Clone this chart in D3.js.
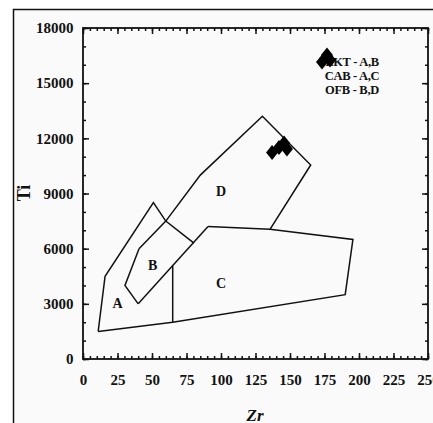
<!DOCTYPE html>
<html>
<head>
<meta charset="utf-8">
<script src="https://cdn.jsdelivr.net/npm/d3@7"></script>
<style>
  html, body { margin: 0; padding: 0; background: #ffffff; }
  svg { display: block; }
  text { font-family: "Liberation Serif", "Times New Roman", serif; font-weight: bold; fill: #111; }
</style>
</head>
<body>
<svg id="chart" width="433" height="423"></svg>
<script>
// Ti–Zr discrimination diagram (Pearce & Cann style fields)

// Tick values
const zrTicks = [0, 25, 50, 75, 100, 125, 150, 175, 200, 225, 250];
const tiTicks = [0, 3000, 6000, 9000, 12000, 15000, 18000];

// Field boundary lines, as [Zr, Ti] vertices
const fieldAOuter = [[11, 1500], [16, 4500], [51, 8500], [60, 7500], [80.4, 6300]];
const divideBC = [[40, 3000], [90.6, 7200]];
const fieldB = [[40, 3000], [30.4, 4000], [40.6, 6000]];
const fieldD = [[40.6, 6000], [60, 7500], [85, 10000], [130, 13200], [165, 10550], [135.5, 7050]];
const fieldC = [[90.6, 7200], [135.5, 7050], [195.6, 6500], [190, 3500], [65, 2000], [11, 1500]];
const divideAC = [[65, 2000], [65, 5080]];

// Field letters
const fieldNames = ["A", "B", "C", "D"];
const fieldZr = [25, 50.5, 100, 100];
const fieldTi = [3050, 5100, 4150, 9150];

// Key to the fields
const keyLines = ["LKT - A,B", "CAB - A,C", "OFB - B,D"];

// Samples
const sampleZr = [137, 142, 145.7, 147.8, 173.2, 176.8, 179];
const sampleTi = [11230, 11500, 11750, 11420, 16150, 16530, 16260];

const svg = d3.select("#chart");
const plotLeft = 83, plotRight = 428, plotTop = 28, plotBottom = 359;

const x = d3.scaleLinear().domain([0, 250]).range([plotLeft, plotRight]);
const y = d3.scaleLinear().domain([0, 18000]).range([plotBottom, plotTop]);

// outer figure frame
svg.append("rect")
  .attr("x", 13.5).attr("y", 9.5)
  .attr("width", 440).attr("height", 440)
  .attr("fill", "#fafafa").attr("stroke", "#111").attr("stroke-width", 1.5);

const axisStyle = g => {
  g.select(".domain").remove();
  g.selectAll("line").attr("stroke", "#111").attr("stroke-width", 1.5);
  g.selectAll("text").attr("font-size", 15).attr("fill", "#111")
    .attr("font-family", "'Liberation Serif', 'Times New Roman', serif").attr("font-weight", "bold");
};

const zrMinor = d3.range(0, 251, 5);
const tiMinor = d3.range(0, 18001, 1000);

// bottom axis
svg.append("g").attr("transform", `translate(0,${plotBottom})`)
  .call(d3.axisBottom(x).tickValues(zrMinor).tickSize(-3).tickFormat(""))
  .call(axisStyle);
svg.append("g").attr("transform", `translate(0,${plotBottom})`)
  .call(d3.axisBottom(x).tickValues(zrTicks).tickSizeInner(-6).tickSizeOuter(0).tickPadding(15).tickFormat(d3.format("d")))
  .call(axisStyle);
// top axis
svg.append("g").attr("transform", `translate(0,${plotTop})`)
  .call(d3.axisTop(x).tickValues(zrMinor).tickSize(-3).tickFormat(""))
  .call(axisStyle);
svg.append("g").attr("transform", `translate(0,${plotTop})`)
  .call(d3.axisTop(x).tickValues(zrTicks).tickSize(-6).tickFormat(""))
  .call(axisStyle);
// left axis
svg.append("g").attr("transform", `translate(${plotLeft},0)`)
  .call(d3.axisLeft(y).tickValues(tiMinor).tickSize(-3).tickFormat(""))
  .call(axisStyle);
svg.append("g").attr("transform", `translate(${plotLeft},0)`)
  .call(d3.axisLeft(y).tickValues(tiTicks).tickSizeInner(-6).tickSizeOuter(0).tickPadding(9.5).tickFormat(d3.format("d")))
  .call(axisStyle);
// right axis
svg.append("g").attr("transform", `translate(${plotRight},0)`)
  .call(d3.axisRight(y).tickValues(tiMinor).tickSize(-3).tickFormat(""))
  .call(axisStyle);
svg.append("g").attr("transform", `translate(${plotRight},0)`)
  .call(d3.axisRight(y).tickValues(tiTicks).tickSize(-6).tickFormat(""))
  .call(axisStyle);

// plot border
svg.append("rect")
  .attr("x", plotLeft).attr("y", plotTop)
  .attr("width", plotRight - plotLeft).attr("height", plotBottom - plotTop)
  .attr("fill", "none").attr("stroke", "#111").attr("stroke-width", 1.8);

// field boundaries
const line = d3.line().x(d => x(d[0])).y(d => y(d[1]));
[fieldAOuter, divideBC, fieldB, fieldD, fieldC, divideAC].forEach(pts => {
  svg.append("path").attr("d", line(pts))
    .attr("fill", "none").attr("stroke", "#111").attr("stroke-width", 1.5)
    .attr("stroke-linejoin", "miter");
});

// field letters
svg.append("g").selectAll("text").data(fieldNames).join("text")
  .attr("x", (d, i) => x(fieldZr[i]))
  .attr("y", (d, i) => y(fieldTi[i]))
  .attr("dy", "0.35em")
  .attr("text-anchor", "middle")
  .attr("font-size", 14)
  .text(d => d);

// key
svg.append("g").selectAll("text").data(keyLines).join("text")
  .attr("x", 352)
  .attr("y", (d, i) => 62 + i * 14)
  .attr("dy", "0.35em")
  .attr("text-anchor", "middle")
  .attr("font-size", 12.5)
  .attr("letter-spacing", -0.3)
  .text(d => d);

// samples: filled diamonds, slightly taller than wide
const diamondPath = "M0,-7.5L6,0L0,7.5L-6,0Z";
svg.append("g").selectAll("path").data(sampleZr).join("path")
  .attr("d", diamondPath)
  .attr("transform", (d, i) => `translate(${x(d)},${y(sampleTi[i])})`)
  .attr("fill", "#000");

// axis titles
svg.append("text")
  .attr("transform", `translate(24,193) rotate(-90)`)
  .attr("text-anchor", "middle")
  .attr("dy", "0.35em")
  .attr("font-size", 18)
  .text("Ti");
svg.append("text")
  .attr("x", 255).attr("y", 421)
  .attr("text-anchor", "middle")
  .attr("font-size", 17)
  .attr("font-style", "italic")
  .text("Zr");
</script>
</body>
</html>
